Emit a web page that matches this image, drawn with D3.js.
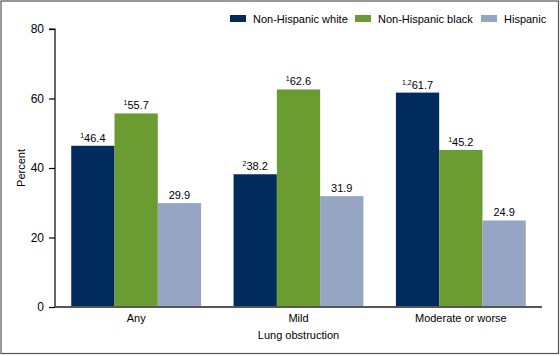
<!DOCTYPE html>
<html><head><meta charset="utf-8">
<script src="https://cdn.jsdelivr.net/npm/d3@7"></script>
<style>
html,body{margin:0;padding:0;background:#fff;}
svg{display:block;font-family:"Liberation Sans",Arial,sans-serif;}
</style></head>
<body>
<svg id="chart" width="560" height="356"></svg>
<script>
const categories = ["Any", "Mild", "Moderate or worse"];
const seriesNames = ["Non-Hispanic white", "Non-Hispanic black", "Hispanic"];
const white = [46.4, 38.2, 61.7];
const black = [55.7, 62.6, 45.2];
const hispanic = [29.9, 31.9, 24.9];
const whiteNotes = ["1", "2", "1,2"];
const blackNotes = ["1", "1", "1"];
const hispanicNotes = ["", "", ""];
const yTicks = [0, 20, 40, 60, 80];
const colors = ["#002b5c", "#6b9c32", "#97a5c4"];

const seriesValues = [white, black, hispanic];
const seriesNotes = [whiteNotes, blackNotes, hispanicNotes];

const svg = d3.select("#chart");
const W = 560, H = 356;
const x0 = 55, x1 = 542, yTop = 29, yBot = 307;

svg.append("rect").attr("x", 1).attr("y", 1).attr("width", W - 2.5).attr("height", H - 3.5)
  .attr("fill", "#fff").attr("stroke", "#555").attr("stroke-width", 1.2);

const y = d3.scaleLinear().domain([0, 80]).range([yBot, yTop]);
const xg = d3.scaleBand().domain(categories).range([x0, x1]).paddingInner(0).paddingOuter(0);
const xs = d3.scaleBand().domain(seriesNames).range([xg.bandwidth() * 0.1, xg.bandwidth() * 0.9]).padding(0);

// bars
categories.forEach((c, ci) => {
  const g = svg.append("g").attr("transform", `translate(${xg(c)},0)`);
  seriesNames.forEach((s, si) => {
    const v = seriesValues[si][ci];
    g.append("rect")
      .attr("x", xs(s)).attr("y", y(v))
      .attr("width", xs.bandwidth()).attr("height", y(0) - y(v))
      .attr("fill", colors[si]);
    const t = g.append("text")
      .attr("x", xs(s) + xs.bandwidth() / 2).attr("y", y(v) - 4)
      .attr("text-anchor", "middle").attr("font-size", 11).attr("fill", "#000");
    const note = seriesNotes[si][ci];
    if (note) {
      t.append("tspan").attr("font-size", 7).attr("dy", -4).text(note);
      t.append("tspan").attr("dy", 4).text(v.toFixed(1));
    } else {
      t.append("tspan").text(v.toFixed(1));
    }
  });
});

// y axis
const yAxis = d3.axisLeft(y).tickValues(yTicks).tickSize(6).tickPadding(5);
const ya = svg.append("g").attr("transform", `translate(${x0},0)`).call(yAxis);
ya.select(".domain").attr("stroke", "#000").attr("stroke-width", 1.2).attr("d", `M-6,${yTop}H0V${yBot}`);
ya.selectAll(".tick line").attr("stroke", "#000").attr("stroke-width", 1.2);
ya.selectAll(".tick text").attr("font-size", 12).attr("fill", "#000").attr("font-family", "Liberation Sans, Arial, sans-serif");

// x axis
const xAxis = d3.axisBottom(xg).tickSize(0).tickPadding(7);
const xa = svg.append("g").attr("transform", `translate(0,${yBot})`).call(xAxis);
xa.select(".domain").attr("stroke", "#555").attr("stroke-width", 2).attr("d", `M${x0},0H${x1}`);
xa.selectAll(".tick text").attr("font-size", 11).attr("fill", "#000").attr("font-family", "Liberation Sans, Arial, sans-serif");

// axis titles
svg.append("text").attr("transform", `translate(25,${(yTop + yBot) / 2}) rotate(-90)`)
  .attr("text-anchor", "middle").attr("font-size", 11).text("Percent");
svg.append("text").attr("x", (x0 + x1) / 2).attr("y", 339)
  .attr("text-anchor", "middle").attr("font-size", 11).text("Lung obstruction");

// legend
const legendX = [230, 355, 481];
seriesNames.forEach((s, i) => {
  svg.append("rect").attr("x", legendX[i]).attr("y", 15).attr("width", 16).attr("height", 7).attr("fill", colors[i]);
  svg.append("text").attr("x", legendX[i] + 23).attr("y", 22.5).attr("font-size", 11).text(s);
});
</script>
</body></html>
